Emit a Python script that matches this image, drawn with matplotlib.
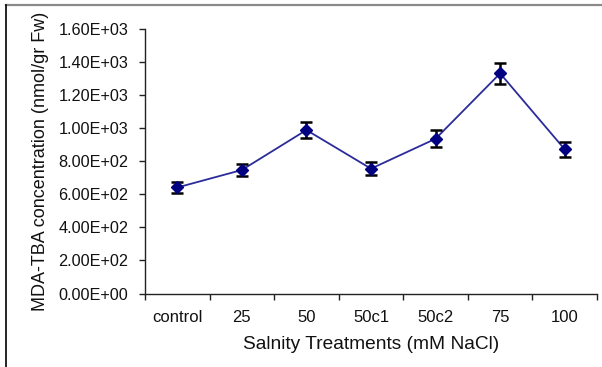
import matplotlib
matplotlib.use("Agg")
import matplotlib.pyplot as plt
from matplotlib.lines import Line2D
import numpy as np

categories = ["control", "25", "50", "50c1", "50c2", "75", "100"]
mda_values = [642, 748, 990, 756, 937, 1333, 873]
mda_errors = [32, 38, 47, 39, 51, 65, 45]
ytick_values = [0, 200, 400, 600, 800, 1000, 1200, 1400, 1600]
ytick_labels = ["0.00E+00", "2.00E+02", "4.00E+02", "6.00E+02", "8.00E+02",
                "1.00E+03", "1.20E+03", "1.40E+03", "1.60E+03"]

plt.rcParams['font.family'] = ['Liberation Sans', 'DejaVu Sans']

fig = plt.figure(figsize=(6.02, 3.67), dpi=100)
ax = fig.add_axes([145/602, 1 - 293.5/367, (597-145)/602, (293.5-29.3)/367])

x = np.arange(len(categories))
ax.plot(x, mda_values, color='#2b2b9a', lw=1.3, zorder=2)
ax.errorbar(x, mda_values, yerr=mda_errors, fmt='none', ecolor='black',
            elinewidth=1.8, capsize=4.5, capthick=1.8, zorder=3)
ax.plot(x, mda_values, linestyle='none', marker='D', markersize=6.5,
        color='#000080', zorder=4)

ax.set_xlim(-0.5, len(categories) - 0.5)
ax.set_ylim(0, 1600)
ax.set_yticks(ytick_values)
ax.set_yticklabels(ytick_labels)
ax.set_xticks(x)
ax.set_xticklabels(categories)
ax.set_xticks(np.arange(len(categories) + 1) - 0.5, minor=True)
ax.tick_params(axis='x', which='major', length=0, pad=12, labelsize=12, colors='#111111')
ax.tick_params(axis='x', which='minor', length=4, width=1, direction='out', color='#222222')
ax.tick_params(axis='y', which='major', length=4, width=1, direction='out', pad=8,
               labelsize=11.7, colors='#111111', color='#222222')

for s in ['top', 'right']:
    ax.spines[s].set_visible(False)
for s in ['left', 'bottom']:
    ax.spines[s].set_color('#222222')
    ax.spines[s].set_linewidth(1.0)

ax.set_xlabel("Salnity Treatments (mM NaCl)", fontsize=13.8, labelpad=8, color='#111111')
ax.set_ylabel("MDA-TBA concentration (nmol/gr Fw)", fontsize=13, labelpad=7, color='#111111')

# outer frame lines (top gray, left black)
fig.add_artist(Line2D([6/602, 1], [1 - 4.5/367, 1 - 4.5/367], transform=fig.transFigure,
                      color='#8a8a8a', lw=1.6))
fig.add_artist(Line2D([6/602, 6/602], [0, 1 - 4.5/367], transform=fig.transFigure,
                      color='black', lw=1.2))

fig.savefig("out.png", dpi=100)
